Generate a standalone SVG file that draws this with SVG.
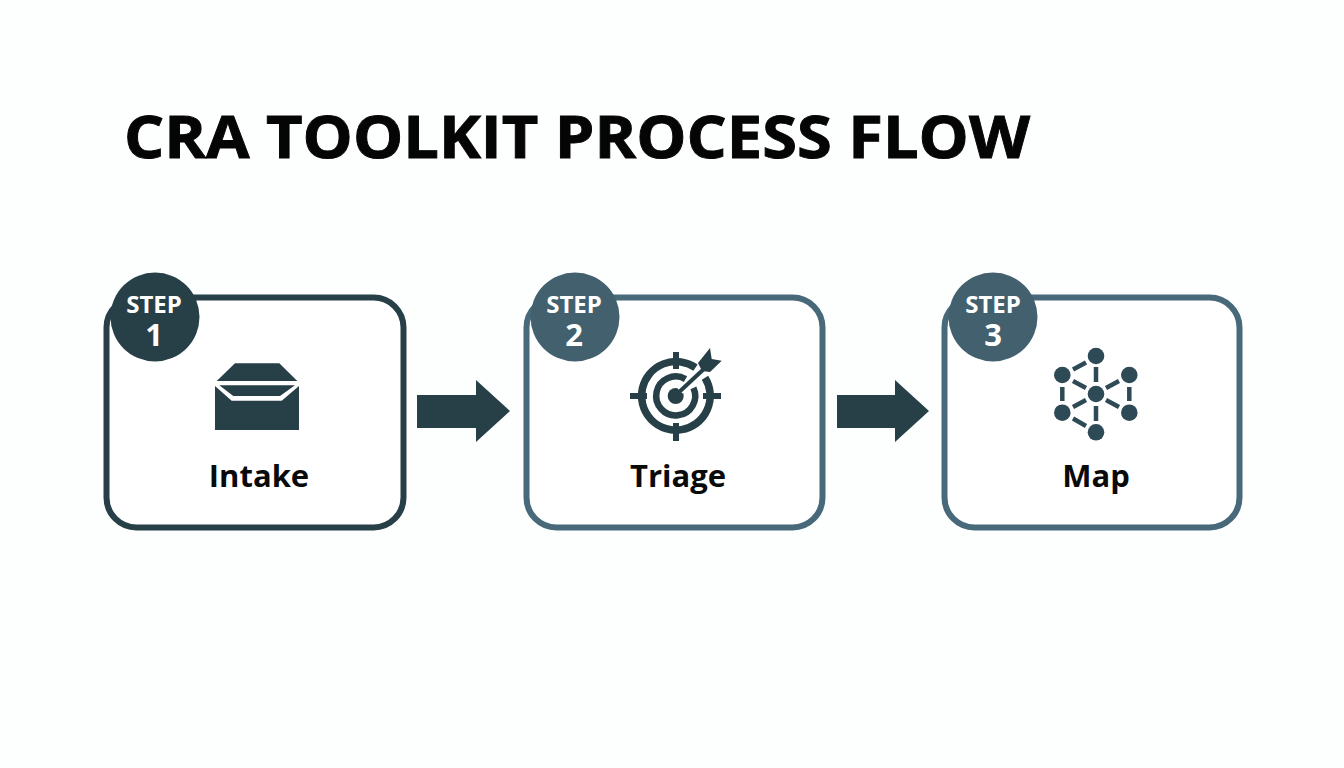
<svg xmlns="http://www.w3.org/2000/svg" width="1344" height="768" viewBox="0 0 1344 768">
<style>
text{font-family:"Open Sans","Liberation Sans",sans-serif;text-anchor:middle}
.title{font-size:59px;font-weight:700;fill:#050505;text-anchor:start;stroke:#050505;stroke-width:0.9}
.step{font-size:24px;font-weight:700;fill:#fff}
.num{font-size:31px;font-weight:700;fill:#fff}
.label{font-size:31px;font-weight:700;fill:#0a0a0a}
.card{fill:#fff;stroke-width:6}
.dark{stroke:#273f47}.teal{stroke:#47697a}
.fd{fill:#273f47}.ft{fill:#42606e}
.ic{fill:#273f47}
.ring{fill:none;stroke:#273f47}
.edge{stroke:#2f4a57;stroke-width:4.5;fill:none}
.nd{fill:#2f4a57}
</style>
<rect width="1344" height="768" fill="#fdfefe"/>
<text class="title" x="124" y="158" textLength="906" lengthAdjust="spacingAndGlyphs">CRA TOOLKIT PROCESS FLOW</text>
<g id="connectors">
<polygon class="fd" points="417,395 476,395 476,380 510,411 476,442 476,428 417,428"/>
<polygon class="fd" points="837,395 895,395 895,380 929,411 895,442 895,428 837,428"/>
</g>
<g id="node-intake">
<rect class="card dark" x="106.5" y="297.5" width="297" height="230" rx="30"/>
<circle class="fd" cx="155" cy="317" r="44.5"/>
<text class="step" x="154" y="313">STEP</text>
<text class="num" x="154" y="346">1</text>
<polygon class="ic" points="235,363.3 279.3,363.3 297.3,381 216.7,381"/>
<polygon class="ic" points="215,386 231.7,400.7 281.7,400.7 299,386 299,430 215,430"/>
<polygon class="ic" points="219.3,385.3 295,385.3 280,396 233.3,396"/>
<text class="label" x="259" y="487">Intake</text>
</g>
<g id="node-triage">
<rect class="card teal" x="526.5" y="297.5" width="296" height="230" rx="30"/>
<circle class="ft" cx="575" cy="317" r="44.5"/>
<text class="step" x="574" y="313">STEP</text>
<text class="num" x="574" y="346">2</text>
<path class="ring" stroke-width="7.5" d="M 705,377.7 A 34.3,34.3 0 1 1 695.5,367.7"/>
<path class="ring" stroke-width="6.5" d="M 693.4,387.8 A 19.5,19.5 0 1 1 685.5,379.1"/>
<circle class="ic" cx="675.7" cy="396" r="8"/>
<g class="ic">
<rect x="630" y="393" width="17" height="6"/><rect x="703" y="393" width="18" height="6"/>
<rect x="673" y="352" width="6" height="17"/><rect x="673" y="423" width="6" height="18"/>
</g>
<line x1="680" y1="391" x2="702" y2="370" stroke="#fdfefe" stroke-width="7"/>
<line x1="677" y1="394" x2="706" y2="367" stroke="#273f47" stroke-width="4"/>
<polygon class="ic" points="698,363 710,348 711.7,359 721.7,360.7 710,372 702,371"/>
<text class="label" x="678" y="487">Triage</text>
</g>
<g id="node-map">
<rect class="card teal" x="944.5" y="297.5" width="295" height="230" rx="30"/>
<circle class="ft" cx="993" cy="317" r="44.5"/>
<text class="step" x="993" y="313">STEP</text>
<text class="num" x="993" y="346">3</text>
<g class="edge">
<line x1="1073" y1="369.5" x2="1086" y2="362.5"/>
<line x1="1096" y1="367" x2="1096" y2="382"/>
<line x1="1073" y1="381" x2="1086" y2="388"/>
<line x1="1106" y1="388" x2="1119" y2="381"/>
<line x1="1062.3" y1="387" x2="1062.3" y2="401"/>
<line x1="1129.3" y1="387" x2="1129.3" y2="401"/>
<line x1="1073" y1="407" x2="1086" y2="400"/>
<line x1="1106" y1="400" x2="1119" y2="407"/>
<line x1="1096" y1="406" x2="1096" y2="421"/>
<line x1="1073" y1="418.5" x2="1086" y2="426"/>
</g>
<g class="nd">
<circle cx="1096" cy="356" r="8.3"/><circle cx="1062.3" cy="375" r="8.3"/><circle cx="1129.3" cy="375" r="8.3"/>
<circle cx="1096" cy="394" r="8.3"/><circle cx="1062.3" cy="412.7" r="8.3"/><circle cx="1129.3" cy="412.7" r="8.3"/>
<circle cx="1096" cy="432.3" r="8.3"/>
</g>
<text class="label" x="1096" y="487">Map</text>
</g>
</svg>
